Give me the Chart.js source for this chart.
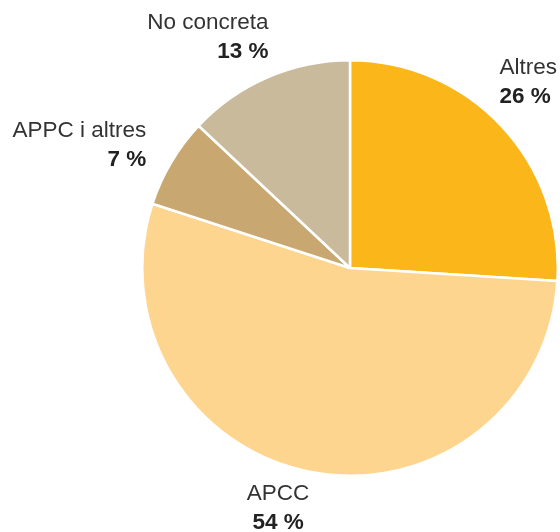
<!DOCTYPE html>
<html>
<head>
<meta charset="utf-8">
<script src="https://cdn.jsdelivr.net/npm/chart.js@4"></script>
<style>
  html, body { margin: 0; padding: 0; background: #fff; }
  #wrap { width: 560px; height: 532px; position: relative; }
</style>
</head>
<body>
<div id="wrap"><canvas id="c" width="560" height="532"></canvas></div>
<script>
const categories = ["Altres", "APCC", "APPC i altres", "No concreta"];
const values = [26, 54, 7, 13];
const valueLabels = ["26 %", "54 %", "7 %", "13 %"];
const colors = ["#FBB619", "#FDD58E", "#C8A770", "#C9BA9C"];

// label placement relative to each slice's outer edge at its mid angle
const labelPlacement = [
  { align: "left",   dx: -2,  dy: -58 },
  { align: "center", dx: -33, dy: 22 },
  { align: "right",  dx: -25, dy: -31 },
  { align: "right",  dx: 1,   dy: -55 }
];

const labelPlugin = {
  id: "sliceLabels",
  afterDraw(chart) {
    const ctx = chart.ctx;
    const meta = chart.getDatasetMeta(0);
    ctx.save();
    meta.data.forEach((arc, i) => {
      const p = arc.getProps(["x", "y", "startAngle", "endAngle", "outerRadius"], true);
      const mid = (p.startAngle + p.endAngle) / 2;
      const ax = p.x + Math.cos(mid) * p.outerRadius;
      const ay = p.y + Math.sin(mid) * p.outerRadius;
      const pl = labelPlacement[i];
      const x = ax + pl.dx;
      const y = ay + pl.dy;
      ctx.textAlign = pl.align;
      ctx.textBaseline = "middle";
      ctx.fillStyle = "#333333";
      ctx.font = "22.5px 'Liberation Sans', Arial, sans-serif";
      ctx.fillText(categories[i], x, y);
      ctx.fillStyle = "#222222";
      ctx.font = "bold 22.5px 'Liberation Sans', Arial, sans-serif";
      ctx.fillText(valueLabels[i], x, y + 29);
    });
    ctx.restore();
  }
};

new Chart(document.getElementById("c"), {
  type: "pie",
  data: {
    labels: categories,
    datasets: [{
      data: values,
      backgroundColor: colors,
      borderColor: "#ffffff",
      borderWidth: 2.5
    }]
  },
  options: {
    responsive: false,
    animation: false,
    layout: { padding: { left: 141, right: 1, top: 59, bottom: 55 } },
    plugins: {
      legend: { display: false },
      tooltip: { enabled: false }
    }
  },
  plugins: [labelPlugin]
});
</script>
</body>
</html>
